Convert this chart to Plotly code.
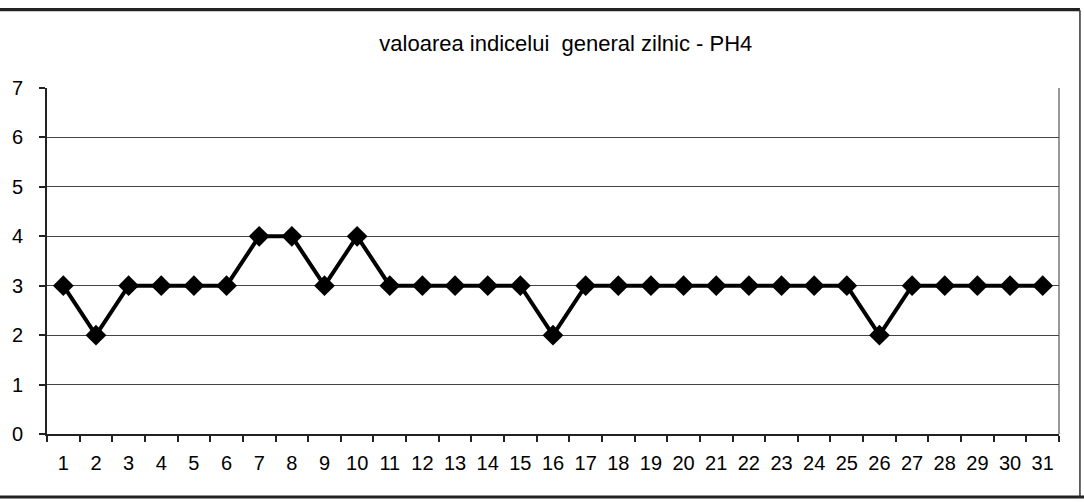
import plotly.graph_objects as go

days = [str(d) for d in range(1, 32)]
values = [3, 2, 3, 3, 3, 3, 4, 4, 3, 4, 3, 3, 3, 3, 3, 2, 3, 3, 3, 3,
          3, 3, 3, 3, 3, 2, 3, 3, 3, 3, 3]
title_text = "valoarea indicelui  general zilnic - PH4"
y_ticks = [0, 1, 2, 3, 4, 5, 6, 7]

fig = go.Figure()
fig.add_trace(go.Scatter(
    x=days, y=values, mode="lines+markers",
    line=dict(color="#000000", width=4),
    marker=dict(symbol="diamond", size=16, color="#000000"),
    showlegend=False,
))

fig.update_layout(
    width=1084, height=502,
    margin=dict(l=45, r=25, t=88, b=68),
    paper_bgcolor="white", plot_bgcolor="white",
    font=dict(family="Liberation Sans, Arial, sans-serif", color="#000000", size=20),
    title=dict(text=title_text, x=0.522, xanchor="center", y=0.914, yanchor="middle",
               font=dict(size=22, color="#000000")),
    xaxis=dict(type="category", tickson="boundaries", ticks="outside", ticklen=6,
               range=[-0.5, 30.5],
               tickcolor="#222222", tickwidth=1.5, ticklabelstandoff=10,
               showline=True, linecolor="#222222", linewidth=2,
               showgrid=False, tickfont=dict(size=20)),
    yaxis=dict(range=[0, 7], tickvals=y_ticks, ticks="outside", ticklen=6,
               tickcolor="#222222", tickwidth=1.5, ticklabelstandoff=12,
               showline=True, linecolor="#222222", linewidth=2,
               showgrid=True, gridcolor="#444444", gridwidth=1.4,
               zeroline=False, tickfont=dict(size=20)),
    shapes=[
        dict(type="line", xref="paper", yref="paper", x0=1, x1=1, y0=0, y1=1,
             line=dict(color="#555555", width=1.2)),
        dict(type="rect", xref="paper", yref="paper", x0=-0.06, x1=1.0207,
             y0=1.222, y1=1.231, fillcolor="#222222", line=dict(width=0),
             layer="above"),
        dict(type="line", xref="paper", yref="paper", x0=-0.06, x1=1.03,
             y0=-0.182, y1=-0.182, line=dict(color="#222222", width=3)),
        dict(type="line", xref="paper", yref="paper", x0=1.0207, x1=1.0207,
             y0=-0.182, y1=1.225, line=dict(color="#333333", width=1.5)),
    ],
)

fig.write_html("out.html", config={"displayModeBar": False},
               post_script="document.body.style.margin='0';")
